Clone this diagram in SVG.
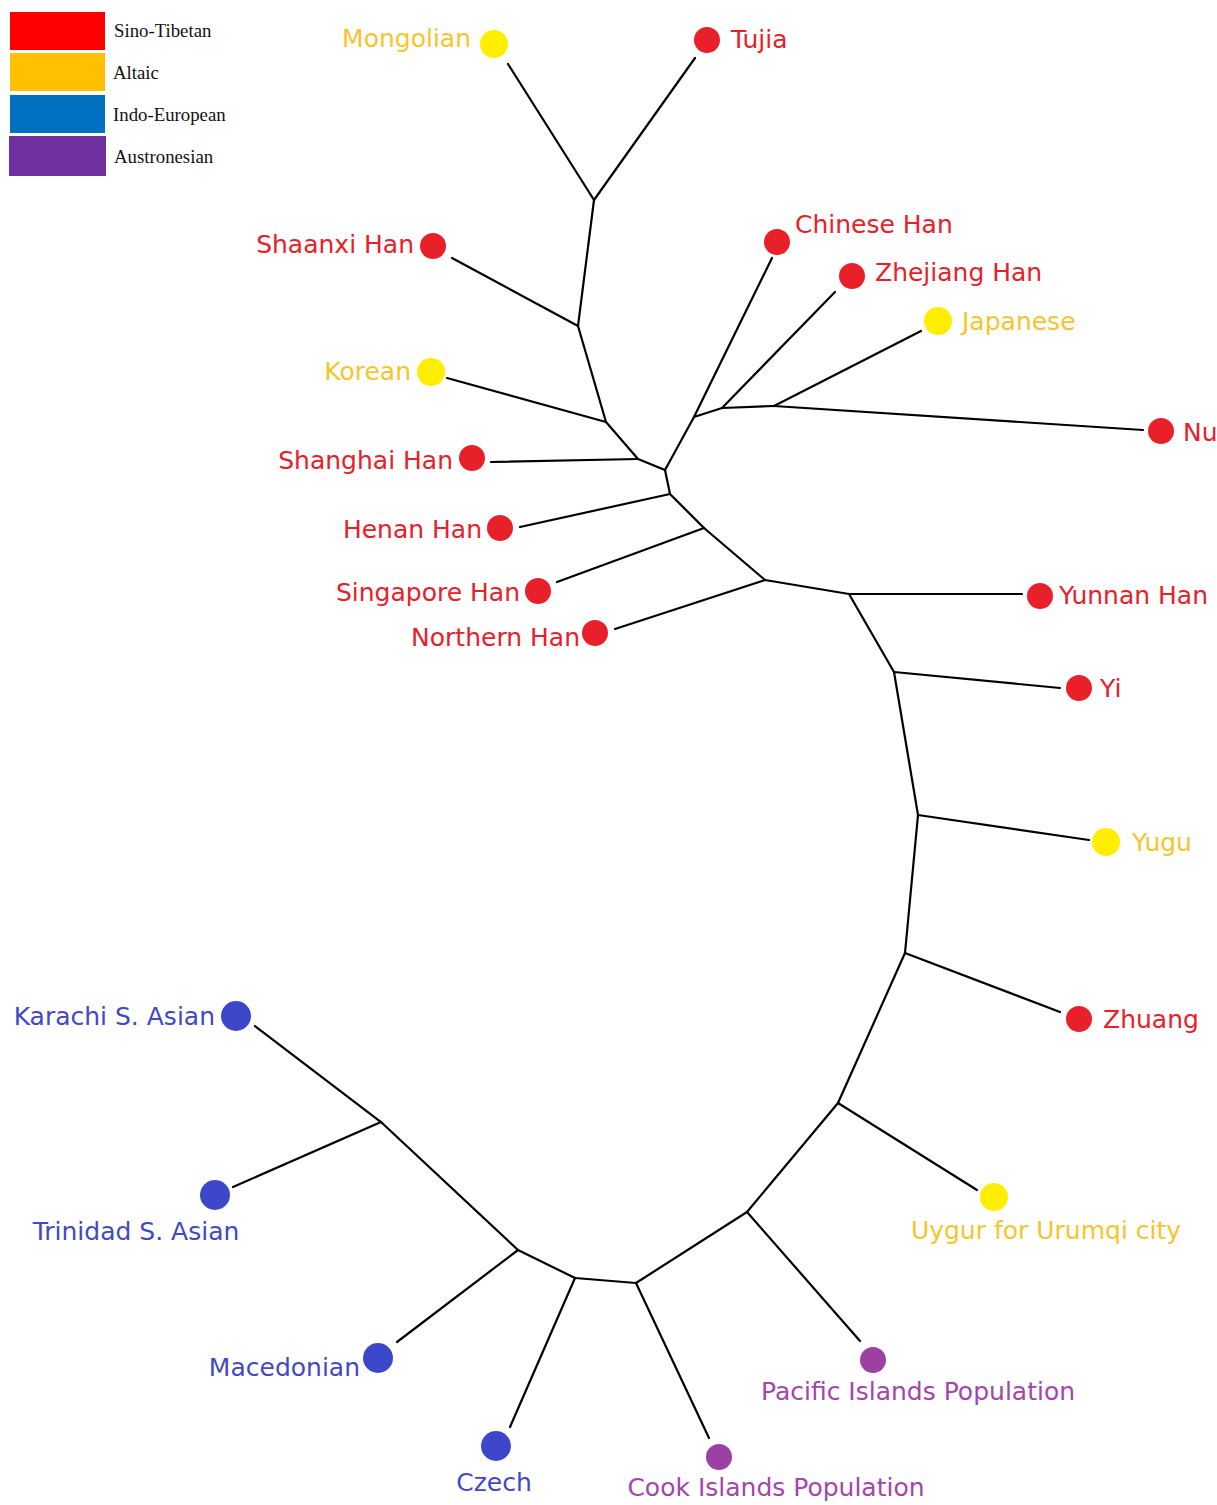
<svg xmlns="http://www.w3.org/2000/svg" width="1217" height="1505" viewBox="0 0 1217 1505">
<style>
.e{stroke:#000;stroke-width:2.2;fill:none;stroke-linecap:round}
.lab{font-family:"DejaVu Sans",Verdana,sans-serif;font-size:25px}
.leg{font-family:"Liberation Serif","Times New Roman",serif;font-size:18.8px;fill:#111}
.st circle{fill:#E8202A}.st text{fill:#E8202A}
.al circle{fill:#FFEE00}.al text{fill:#F6C42C}
.ie circle{fill:#3D47C9}.ie text{fill:#4349C2}
.an circle{fill:#9C40A3}.an text{fill:#A445AB}
</style>
<rect width="1217" height="1505" fill="#fff"/>
<g id="legend">
<rect x="10" y="12" width="95" height="38" fill="#FF0000"/>
<rect x="10" y="53" width="95" height="38" fill="#FFC000"/>
<rect x="10" y="95" width="95" height="38" fill="#0070C0"/>
<rect x="9" y="136" width="97" height="40" fill="#7030A0"/>
<text class="leg" x="114" y="37">Sino-Tibetan</text>
<text class="leg" x="113" y="79">Altaic</text>
<text class="leg" x="113" y="121">Indo-European</text>
<text class="leg" x="114" y="163">Austronesian</text>
</g>
<g id="connectors">
<line class="e" x1="508" y1="64" x2="594" y2="200"/>
<line class="e" x1="695" y1="58" x2="594" y2="200"/>
<line class="e" x1="594" y1="200" x2="578" y2="326"/>
<line class="e" x1="452" y1="258" x2="578" y2="326"/>
<line class="e" x1="578" y1="326" x2="606" y2="422"/>
<line class="e" x1="447" y1="378" x2="606" y2="422"/>
<line class="e" x1="606" y1="422" x2="638" y2="459"/>
<line class="e" x1="491" y1="462" x2="638" y2="459"/>
<line class="e" x1="638" y1="459" x2="665" y2="470"/>
<line class="e" x1="665" y1="470" x2="694" y2="417"/>
<line class="e" x1="694" y1="417" x2="772" y2="258"/>
<line class="e" x1="694" y1="417" x2="722" y2="408"/>
<line class="e" x1="722" y1="408" x2="835" y2="292"/>
<line class="e" x1="722" y1="408" x2="774" y2="406"/>
<line class="e" x1="774" y1="406" x2="921" y2="331"/>
<line class="e" x1="774" y1="406" x2="1143" y2="430"/>
<line class="e" x1="665" y1="470" x2="670" y2="494"/>
<line class="e" x1="670" y1="494" x2="520" y2="527"/>
<line class="e" x1="670" y1="494" x2="704" y2="528"/>
<line class="e" x1="704" y1="528" x2="557" y2="582"/>
<line class="e" x1="704" y1="528" x2="765" y2="580"/>
<line class="e" x1="765" y1="580" x2="615" y2="629"/>
<line class="e" x1="765" y1="580" x2="849" y2="594"/>
<line class="e" x1="849" y1="594" x2="1022" y2="594"/>
<line class="e" x1="849" y1="594" x2="894" y2="672"/>
<line class="e" x1="894" y1="672" x2="1060" y2="688"/>
<line class="e" x1="894" y1="672" x2="918" y2="815"/>
<line class="e" x1="918" y1="815" x2="1089" y2="840"/>
<line class="e" x1="918" y1="815" x2="905" y2="953"/>
<line class="e" x1="905" y1="953" x2="1060" y2="1012"/>
<line class="e" x1="905" y1="953" x2="838" y2="1103"/>
<line class="e" x1="838" y1="1103" x2="977" y2="1190"/>
<line class="e" x1="838" y1="1103" x2="747" y2="1212"/>
<line class="e" x1="747" y1="1212" x2="860" y2="1341"/>
<line class="e" x1="747" y1="1212" x2="636" y2="1283"/>
<line class="e" x1="636" y1="1283" x2="709" y2="1438"/>
<line class="e" x1="636" y1="1283" x2="575" y2="1278"/>
<line class="e" x1="575" y1="1278" x2="510" y2="1427"/>
<line class="e" x1="575" y1="1278" x2="518" y2="1250"/>
<line class="e" x1="518" y1="1250" x2="397" y2="1342"/>
<line class="e" x1="518" y1="1250" x2="381" y2="1122"/>
<line class="e" x1="381" y1="1122" x2="255" y2="1026"/>
<line class="e" x1="381" y1="1122" x2="233" y2="1187"/>
</g>
<g id="mongolian" class="al"><circle cx="494" cy="44" r="14"/><text class="lab" x="471" y="47" text-anchor="end">Mongolian</text></g>
<g id="tujia" class="st"><circle cx="707" cy="40" r="13"/><text class="lab" x="731" y="48">Tujia</text></g>
<g id="shaanxi-han" class="st"><circle cx="433" cy="246" r="13"/><text class="lab" x="414" y="253" text-anchor="end">Shaanxi Han</text></g>
<g id="chinese-han" class="st"><circle cx="777" cy="242" r="13"/><text class="lab" x="795" y="233">Chinese Han</text></g>
<g id="zhejiang-han" class="st"><circle cx="852" cy="276" r="13"/><text class="lab" x="875" y="281">Zhejiang Han</text></g>
<g id="japanese" class="al"><circle cx="938" cy="321" r="14"/><text class="lab" x="962" y="330">Japanese</text></g>
<g id="korean" class="al"><circle cx="431" cy="372" r="14"/><text class="lab" x="411" y="380" text-anchor="end">Korean</text></g>
<g id="nu" class="st"><circle cx="1161" cy="431" r="13"/><text class="lab" x="1183" y="441">Nu</text></g>
<g id="shanghai-han" class="st"><circle cx="472" cy="458" r="13"/><text class="lab" x="453" y="469" text-anchor="end">Shanghai Han</text></g>
<g id="henan-han" class="st"><circle cx="500" cy="528" r="13"/><text class="lab" x="482" y="538" text-anchor="end">Henan Han</text></g>
<g id="singapore-han" class="st"><circle cx="538" cy="591" r="13"/><text class="lab" x="520" y="601" text-anchor="end">Singapore Han</text></g>
<g id="northern-han" class="st"><circle cx="595" cy="633" r="13"/><text class="lab" x="580" y="646" text-anchor="end">Northern Han</text></g>
<g id="yunnan-han" class="st"><circle cx="1040" cy="596" r="13"/><text class="lab" x="1059" y="604">Yunnan Han</text></g>
<g id="yi" class="st"><circle cx="1079" cy="688" r="13"/><text class="lab" x="1100" y="697">Yi</text></g>
<g id="yugu" class="al"><circle cx="1106" cy="842" r="14"/><text class="lab" x="1132" y="851">Yugu</text></g>
<g id="zhuang" class="st"><circle cx="1079" cy="1019" r="13"/><text class="lab" x="1103" y="1028">Zhuang</text></g>
<g id="karachi" class="ie"><circle cx="236" cy="1016" r="15"/><text class="lab" x="215" y="1025" text-anchor="end">Karachi S. Asian</text></g>
<g id="trinidad" class="ie"><circle cx="215" cy="1195" r="15"/><text class="lab" x="136" y="1240" text-anchor="middle">Trinidad S. Asian</text></g>
<g id="uygur" class="al"><circle cx="994" cy="1197" r="14"/><text class="lab" x="1046" y="1239" text-anchor="middle">Uygur for Urumqi city</text></g>
<g id="macedonian" class="ie"><circle cx="378" cy="1358" r="15"/><text class="lab" x="360" y="1376" text-anchor="end">Macedonian</text></g>
<g id="pacific" class="an"><circle cx="873" cy="1360" r="13"/><text class="lab" x="918" y="1400" text-anchor="middle">Pacific Islands Population</text></g>
<g id="czech" class="ie"><circle cx="496" cy="1446" r="15"/><text class="lab" x="494" y="1491" text-anchor="middle">Czech</text></g>
<g id="cook" class="an"><circle cx="719" cy="1457" r="13"/><text class="lab" x="776" y="1496" text-anchor="middle">Cook Islands Population</text></g>
</svg>
